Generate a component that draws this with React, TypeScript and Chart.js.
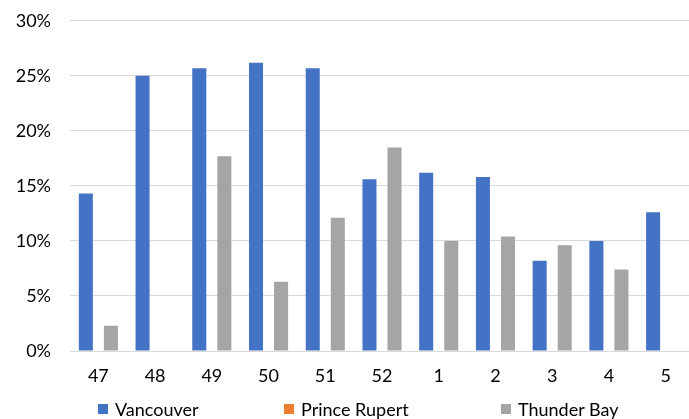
import React, { useEffect, useRef } from "react";
import { Chart, registerables } from "chart.js";

Chart.register(...registerables);

const categories = ["47", "48", "49", "50", "51", "52", "1", "2", "3", "4", "5"];
const vancouver = [14.3, 25.0, 25.7, 26.2, 25.7, 15.6, 16.2, 15.8, 8.2, 10.0, 12.6];
const princeRupert: (number | null)[] = [null, null, null, null, null, null, null, null, null, null, null];
const thunderBay: (number | null)[] = [2.3, null, 17.7, 6.3, 12.1, 18.5, 10.0, 10.4, 9.6, 7.4, null];
const seriesNames = ["Vancouver", "Prince Rupert", "Thunder Bay"];
const seriesColors = ["#4472C4", "#ED7D31", "#A5A5A5"];
const legendX = [98, 284, 501];

const FONT = "Lato, 'Open Sans', sans-serif";

export default function App() {
  const ref = useRef<HTMLCanvasElement>(null);
  useEffect(() => {
    if (!ref.current) return;
    const chart = new Chart(ref.current, {
      type: "bar",
      data: {
        labels: categories,
        datasets: [
          { label: seriesNames[0], data: vancouver, backgroundColor: seriesColors[0] },
          { label: seriesNames[1], data: princeRupert, backgroundColor: seriesColors[1] },
          { label: seriesNames[2], data: thunderBay, backgroundColor: seriesColors[2] },
        ],
      },
      options: {
        animation: false,
        responsive: true,
        maintainAspectRatio: false,
        datasets: { bar: { categoryPercentage: 0.6625, barPercentage: 1.12 } },
        layout: { padding: { left: 0, top: 12, right: 0, bottom: 0 } },
        plugins: { legend: { display: false }, tooltip: { enabled: false }, title: { display: false } },
        scales: {
          x: {
            grid: { display: false, drawTicks: false },
            border: { color: "#D9D9D9", width: 1 },
            ticks: { color: "#000", font: { family: FONT, size: 18 }, padding: 14, maxRotation: 0 },
            afterFit: (s: any) => {
              s.height = 68;
            },
          },
          y: {
            min: 0,
            max: 30,
            grid: { color: "#D9D9D9", lineWidth: 1, drawTicks: false },
            border: { display: false },
            ticks: {
              stepSize: 5,
              color: "#000",
              padding: 19,
              font: { family: FONT, size: 18 },
              callback: (v: any) => v + "%",
            },
            afterFit: (s: any) => {
              s.width = 70;
            },
          },
        },
      },
    });
    return () => chart.destroy();
  }, []);

  return (
    <div style={{ position: "fixed", left: 0, top: 0, width: 689, height: 419, overflow: "hidden", background: "#fff" }}>
      <div style={{ position: "absolute", left: 0, top: -9, width: 694, height: 428 }}>
        <canvas ref={ref} />
      </div>
      {seriesNames.map((n, i) => (
        <div key={n} style={{ position: "absolute", left: legendX[i], top: 398, height: 22, display: "flex", alignItems: "center", fontFamily: FONT, fontSize: 18, color: "#000", whiteSpace: "nowrap" }}>
          <span style={{ display: "inline-block", width: 10, height: 10, background: seriesColors[i], marginRight: 7 }} />
          <span>{n}</span>
        </div>
      ))}
    </div>
  );
}
